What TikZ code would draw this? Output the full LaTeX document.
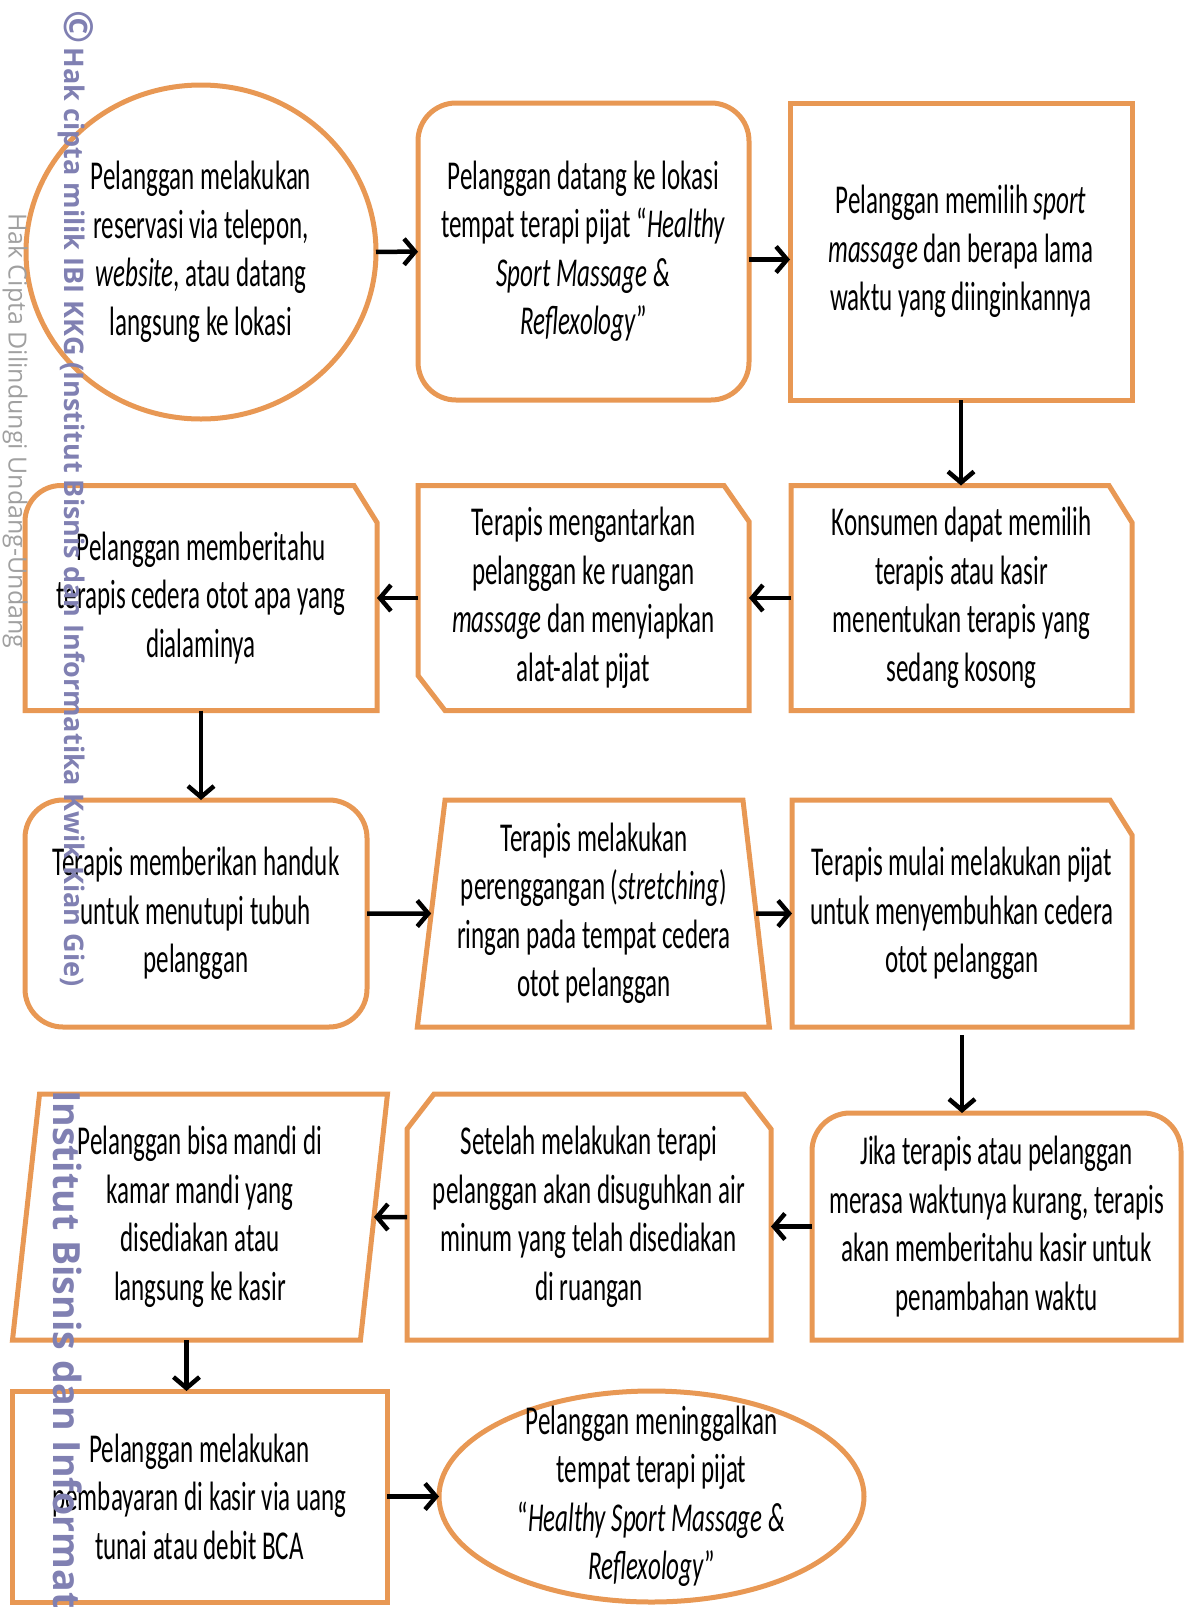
\documentclass[tikz,border=0pt]{standalone}
\usepackage{fontspec}
\setmainfont{Carlito}[FakeStretch=0.61]
\newfontfamily\wmfont{Open Sans}
\usetikzlibrary{shapes.geometric, arrows.meta}
\definecolor{boxorange}{RGB}{232,152,84}
\definecolor{wmpurple}{RGB}{128,128,178}
\definecolor{wmgrey}{RGB}{160,160,160}

\begin{document}
\begin{tikzpicture}[
    x=1pt, y=-1pt,
    every node/.style={align=center, inner sep=0pt, outer sep=0pt, font=\fontsize{41}{48.5}\selectfont},
    outline/.style={draw=boxorange, line width=5pt},
    plainbox/.style={rectangle, outline},
    roundbox/.style={rectangle, rounded corners=38pt, outline},
    startend/.style={ellipse, inner sep=-40pt, outline},
    slantbox/.style={trapezium, trapezium stretches body, outline},
    flow/.style={-{Straight Barb[length=11pt,width=26pt]}, line width=4.5pt},
    wmark/.style={rotate=-90, anchor=west, text=wmpurple, font=\wmfont\bfseries\fontsize{27}{27}\selectfont}
]
\useasboundingbox (0,0) rectangle (1187,1607);
\clip (0,0) rectangle (1187,1607);

% baris 1
\node[startend, minimum width=350pt, minimum height=334pt] (reserve) at (201,252)
    {Pelanggan melakukan\\reservasi via telepon,\\\textit{website}, atau datang\\langsung ke lokasi};
\node[roundbox, minimum width=331pt, minimum height=297pt] (arrive) at (583.5,251.5)
    {Pelanggan datang ke lokasi\\tempat terapi pijat “\textit{Healthy}\\\textit{Sport Massage \&}\\\textit{Reflexology}”};
\node[plainbox, minimum width=342pt, minimum height=297pt] (choose) at (961,251.5)
    {Pelanggan memilih \textit{sport}\\\textit{massage} dan berapa lama\\waktu yang diinginkannya};

% baris 2
\node[minimum width=352pt, minimum height=225pt] (inform) at (201,598)
    {Pelanggan memberitahu\\terapis cedera otot apa yang\\dialaminya};
\node[minimum width=331pt, minimum height=225pt] (guide) at (583.5,598)
    {Terapis mengantarkan\\pelanggan ke ruangan\\\textit{massage} dan menyiapkan\\alat-alat pijat};
\node[minimum width=341pt, minimum height=225pt] (assign) at (961.5,598)
    {Konsumen dapat memilih\\terapis atau kasir\\menentukan terapis yang\\sedang kosong};

\draw[outline] (inform.south west) -- ([yshift=-36pt]inform.north west)
    arc[start angle=180, end angle=90, radius=36pt] -- ([xshift=-23pt]inform.north east)
    -- ([yshift=-37pt]inform.north east) -- (inform.south east) -- cycle;
\draw[outline] ([xshift=27pt]guide.south west) -- (guide.south east) -- ([yshift=-36pt]guide.north east)
    -- ([xshift=-25pt]guide.north east) -- (guide.north west) -- ([yshift=35pt]guide.south west) -- cycle;
\draw[outline] (assign.south west) -- (assign.north west) -- ([xshift=-23pt]assign.north east)
    -- ([yshift=-37pt]assign.north east) -- (assign.south east) -- cycle;

% baris 3
\node[roundbox, minimum width=342pt, minimum height=227pt] (towel) at (196,913.5)
    {Terapis memberikan handuk\\untuk menutupi tubuh\\pelanggan};
\node[slantbox, trapezium left angle=81.3, trapezium right angle=81.7,
    minimum width=352pt, minimum height=227pt] (stretch) at (594,913.5)
    {Terapis melakukan\\perenggangan (\textit{stretching})\\ringan pada tempat cedera\\otot pelanggan};
\node[minimum width=340pt, minimum height=227pt] (massage) at (962,913.5)
    {Terapis mulai melakukan pijat\\untuk menyembuhkan cedera\\otot pelanggan};
\draw[outline] (massage.south west) -- (massage.north west) -- ([xshift=-22pt]massage.north east)
    -- ([yshift=-35pt]massage.north east) -- (massage.south east) -- cycle;

% baris 4
\node[slantbox, trapezium left angle=81.5, trapezium right angle=98.5,
    minimum width=375pt, minimum height=246pt] (bath) at (200,1217)
    {Pelanggan bisa mandi di\\kamar mandi yang\\disediakan atau\\langsung ke kasir};
\node[minimum width=364pt, minimum height=246pt] (drink) at (589,1217)
    {Setelah melakukan terapi\\pelanggan akan disuguhkan air\\minum yang telah disediakan\\di ruangan};
\node[minimum width=369pt, minimum height=227pt] (extend) at (996.5,1226.5)
    {Jika terapis atau pelanggan\\merasa waktunya kurang, terapis\\akan memberitahu kasir untuk\\penambahan waktu};
\draw[outline] (drink.south west) -- ([yshift=-35pt]drink.north west) -- ([xshift=27pt]drink.north west)
    -- ([xshift=-27pt]drink.north east) -- ([yshift=-35pt]drink.north east) -- (drink.south east) -- cycle;
\draw[outline] (extend.south west) -- ([yshift=-38pt]extend.north west)
    arc[start angle=180, end angle=90, radius=38pt] -- ([xshift=-38pt]extend.north east)
    arc[start angle=90, end angle=0, radius=38pt] -- (extend.south east) -- cycle;

% baris 5
\node[plainbox, minimum width=375pt, minimum height=211pt] (pay) at (199.5,1496.5)
    {Pelanggan melakukan\\pembayaran di kasir via uang\\tunai atau debit BCA};
\node[startend, minimum width=425pt, minimum height=211pt] (leave) at (651.5,1496.5)
    {Pelanggan meninggalkan\\tempat terapi pijat\\“\textit{Healthy Sport Massage \&}\\\textit{Reflexology}”};

% panah
\draw[flow] (reserve) -- (arrive);
\draw[flow] ([yshift=-8pt]arrive.east) -- ([yshift=-8pt]choose.west);
\draw[flow] (choose.south) -- (choose.south |- assign.north);
\draw[flow] (assign.west) -- (guide.east);
\draw[flow] (guide.west) -- (inform.east);
\draw[flow] (inform.south) -- (inform.south |- towel.north);
\draw[flow] (towel) -- (stretch);
\draw[flow] (stretch) -- (massage);
\draw[flow, shorten <=8pt] (massage.south) -- (massage.south |- extend.north);
\draw[flow] (extend.west) -- (extend.west -| drink.east);
\draw[flow] (drink) -- (bath);
\draw[flow] (bath.bottom side) -- (bath.bottom side |- pay.north);
\draw[flow] (pay) -- (leave);

% watermark
\node[wmark] (wmcopy) at (76,10) {{\fontsize{40}{40}\selectfont ©}\,Hak cipta milik IBI KKG (Institut Bisnis dan Informatika Kwik Kian Gie)};
\node[wmark, text=wmgrey, font=\wmfont\fontsize{25}{25}\selectfont] (wmlaw) at (15,213) {Hak Cipta Dilindungi Undang-Undang};
\node[wmark, font=\wmfont\bfseries\fontsize{37.5}{37.5}\selectfont] (wminst) at (68,1090) {Institut Bisnis dan Informat};
\end{tikzpicture}
\end{document}
